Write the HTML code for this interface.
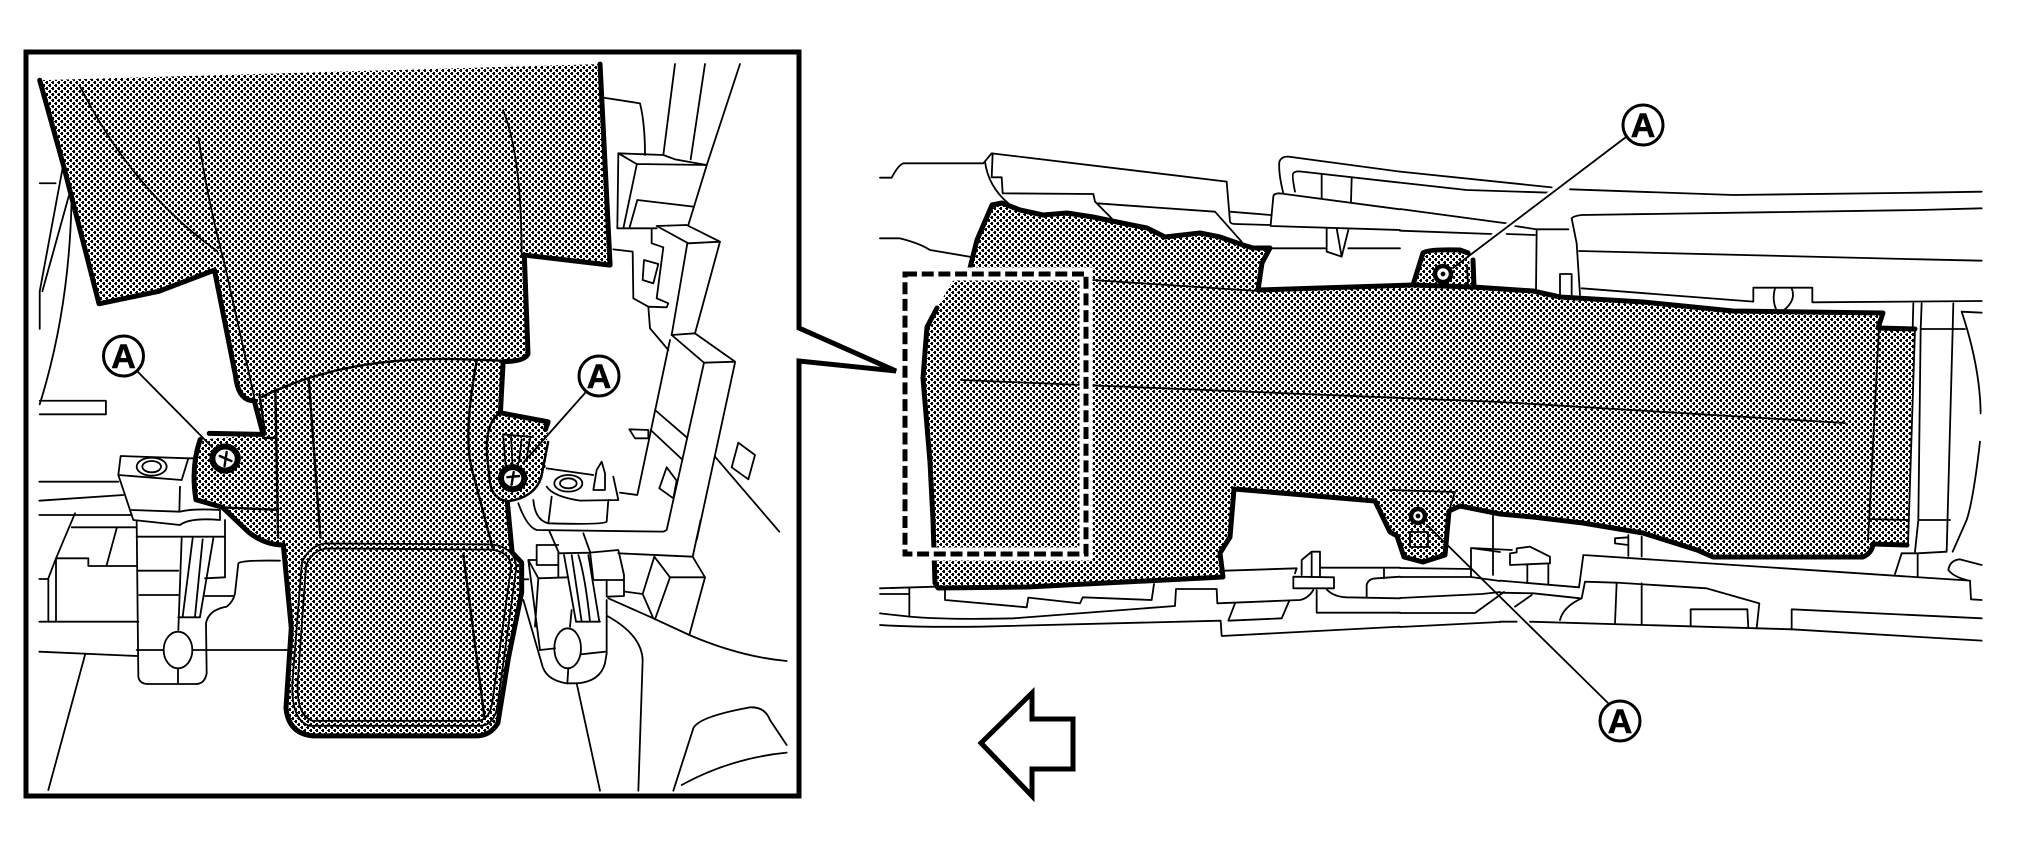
<!DOCTYPE html>
<html><head><meta charset="utf-8"><style>
html,body{margin:0;padding:0;background:#fff}
svg{display:block}
.t *{vector-effect:non-scaling-stroke}
.t{fill:none;stroke:#000;stroke-width:1.8;stroke-linejoin:round;stroke-linecap:round}
.k{stroke-width:5}
.m{stroke-width:2.4}
text{font-family:"Liberation Sans",sans-serif;font-weight:bold;font-size:34px;text-anchor:middle;fill:#000;stroke:#000;stroke-width:.6}
</style></head><body>
<svg width="2020" height="851" viewBox="0 0 2020 851" xmlns="http://www.w3.org/2000/svg">
<defs>
<pattern id="h" width="6" height="6" patternUnits="userSpaceOnUse">
<g fill="#000" shape-rendering="crispEdges"><rect x="1" y="0" width="2" height="3"/><rect x="0" y="1" width="3" height="1"/><rect x="4" y="3" width="2" height="3"/><rect x="3" y="4" width="3" height="1"/></g>
</pattern>
<clipPath id="cL"><path transform="matrix(.5296 0 0 .5024 0 30)" d="M75,100 L1133,68 L1152,468 L990,448 L997,645 Q990,660 950,660 L945,762 L1035,780 L1030,870 Q1015,925 958,940 L967,1040 L985,1060 L985,1120 L960,1250 L940,1380 Q925,1405 900,1405 L590,1405 Q545,1400 540,1350 L550,1190 L535,1025 Q500,1025 470,1000 L420,950 L370,935 Q360,870 378,815 L497,805 L480,738 Q450,740 445,690 L405,478 L300,520 L187,545 Z"/></clipPath>
<clipPath id="cR"><path d="M952,282 L970,268 L977,240 L992,205 L1002,203 L1020,210 L1043,215 L1067,213 L1093,217 L1117,222 L1147,228 L1165,237 L1200,233 L1220,237 L1243,245 L1253,248 L1270,248 L1262,263 L1258,290 L1413,285 L1423,253 L1427,249 L1460,250 L1468,253 L1473,287 L1533,291 L1560,297 L1643,302 L1733,311 L1883,313 L1878,328 L1915,329 L1908,545 L1873,544 Q1872,553 1863,557 L1713,557 L1697,550 L1643,533 L1583,523 L1533,517 L1500,514 L1460,506 L1449,511 L1445,555 L1423,562 L1404,557 L1397,536 L1390,532 L1375,501 L1234,489 L1230,537 L1220,553 L1223,577 L1027,587 L938,588 L935,583 L933,520 L930,462 L923,378 L927,327 L937,308 Z"/></clipPath>
</defs>
<rect width="2020" height="851" fill="#fff"/>

<path d="M26,52 H799 V328 L896,371 L799,361 V796 H26 Z" fill="#fff" stroke="#000" stroke-width="5" stroke-linejoin="miter"/>

<!-- left panel: upper-left background -->
<g class="t" transform="matrix(.5296 0 0 .5024 0 30)">
<path d="M120,265 L75,520 M130,330 L80,520 M75,305 L105,305 M135,345 Q130,560 75,745 M75,595 L75,520"/>
<path d="M75,738 L200,738 L200,765 L75,765"/>
</g>
<!-- lower right crop -->
<g class="t" transform="matrix(.33333 0 0 .33333 490 520)">
<path d="M632,0 L608,110 L645,172 L598,345 M178,33 L205,95 M280,40 L300,95"/>
<path d="M140,75 L205,75 M140,75 L140,135 L205,135 M205,95 L205,170 M115,120 L140,120 M115,120 L145,175 L235,172 M145,175 L135,320 M100,178 L115,178 M115,120 L150,390"/>
<path d="M205,100 L300,98 L385,90 L402,165 L402,228 L350,230 M300,95 L310,180 L402,180 M385,100 L608,110 M350,185 L350,230"/>
<path d="M222,105 L258,305 M245,105 L275,305 M265,105 Q285,165 300,305 M295,105 L328,305 M258,305 L330,305 M240,320 L245,270"/>
<path d="M350,240 L350,400 L345,430 Q330,485 260,490 L230,490 Q165,480 155,430 L100,240"/>
<ellipse cx="233" cy="385" rx="40" ry="60"/>
<path d="M150,390 L195,385 M273,403 L348,395 M235,445 L232,490 M260,490 L330,812"/>
<path d="M355,235 L490,295 L598,345 Q750,410 890,423 M352,288 Q455,345 458,420 L445,812"/>
<path d="M405,215 L458,222 L490,295 M458,222 L493,110 L540,172 L495,298 M540,172 L645,172"/>
<path d="M550,812 L610,625 Q625,590 780,562 Q825,560 840,600 L890,675 M575,795 Q720,715 890,698"/>
</g>
<!-- crop 5 -->
<g class="t" transform="matrix(.33333 0 0 .33333 500 60)">
<path d="M305,112 L420,130 Q435,190 435,285 M525,12 L490,285 M615,12 L572,298 M720,12 L622,310 L565,495"/>
<path d="M355,280 L490,285 L525,298 L620,315 L410,312 Z M410,315 L370,505 M355,280 L352,505 L470,505 M412,420 L580,440 M412,420 L388,505"/>
<path d="M470,498 L560,495 L660,545 L565,550 Z M660,545 L585,820 M562,550 L515,825"/>
<path d="M455,505 L455,550 L490,562 L470,715 L505,730 L500,742 L445,740 L400,715 L398,575 L340,568 M445,740 L450,805 L505,870"/>
<path d="M432,600 L475,612 L460,670 L428,660 Z"/>
<path d="M515,825 L585,820 L705,905 L612,908 Z M705,908 L590,1440 M612,908 L500,1410 L490,1415 L110,1410 Q80,1400 55,1330 M510,840 L412,1305 L360,1298"/>
<path d="M465,1050 L560,1132 M452,1110 L545,1197 M388,1108 L445,1110 L445,1135 L405,1135 Z"/>
<path d="M645,1190 L838,1415 M715,1148 L765,1185 L745,1258 L695,1222 Z M500,1222 L530,1262 L520,1315 L478,1285 Z"/>
<path d="M140,1225 L280,1245 M340,1250 L355,1320 L240,1322 Q160,1310 140,1280 M305,1205 L315,1240 L315,1290 L280,1290 L290,1230 Z"/>
<ellipse cx="205" cy="1270" rx="42" ry="25"/><ellipse cx="205" cy="1270" rx="25" ry="15"/>
<path d="M325,1320 L320,1385 Q310,1395 145,1390 M155,1310 L145,1390 M100,1320 Q105,1380 145,1390"/>
</g>
<!-- crop 6 -->
<g class="t" transform="matrix(.33333 0 0 .33333 30 430)">
<path d="M272,78 L475,85 L455,150 L265,135 Z"/>
<ellipse cx="365" cy="110" rx="45" ry="27"/><ellipse cx="365" cy="110" rx="28" ry="17"/>
<path d="M265,135 L310,270 L450,285 Q480,262 570,270 L570,240 Q490,235 450,245 L305,240 M450,170 L448,245 M475,85 L495,85"/>
<path d="M28,155 L265,155 M28,212 L280,195 M28,255 L305,255 M135,250 L78,385 L55,445 L55,575 M28,447 L55,447 M78,385 L78,575 M78,385 L175,385 L175,408 L320,408 M125,292 L320,292 M260,295 L230,405"/>
<path d="M28,575 L325,575 M28,665 L320,678 M165,675 L55,1080"/>
<path d="M320,275 L325,740 Q328,760 350,762 L500,762 Q525,760 530,730 L528,580 Q535,540 590,530 Q610,515 615,490 L625,400 Q635,390 750,392"/>
<path d="M320,320 L585,320 M585,270 L585,442 L525,445 M325,422 L445,422 M328,495 L445,495 M525,498 L610,498"/>
<path d="M455,325 L445,600 M488,325 L458,560 M518,328 L495,560 M550,325 L510,560 M445,562 L510,562"/>
<ellipse cx="444" cy="660" rx="43" ry="55"/>
<path d="M320,660 L400,660 M488,660 L780,660 M444,715 L444,760"/>
</g>

<!-- left shaded -->
<rect x="0" y="0" width="830" height="851" fill="url(#h)" clip-path="url(#cL)"/>
<g class="t" transform="matrix(.5296 0 0 .5024 0 30)">
<path d="M150,110 Q250,320 410,440 M375,215 Q390,330 425,470 L480,730 M950,160 Q985,250 985,450"/>
<path class="m" d="M495,730 Q650,650 860,655 L945,658"/>
<path class="m" d="M520,715 L525,1010 M490,725 L500,800 M497,812 L520,812 M583,695 L605,1010 M900,660 Q875,800 890,870 L930,1030 M415,950 L525,955"/>
<path d="M615,1022 L930,1024 Q972,1030 975,1070 L940,1340 Q935,1385 905,1385 L585,1385 Q550,1375 552,1300 L570,1060 Q585,1025 615,1022 Z"/>
<path d="M620,1032 L925,1034 Q965,1038 965,1070 L930,1335 Q925,1375 900,1375 L590,1375 Q560,1365 562,1300 L578,1065 Q592,1032 620,1032 Z"/>
<path class="m" d="M875,1045 L915,1370"/>
<path class="k" d="M75,100 L120,270 L187,545 L300,520 L405,478 L445,690 Q450,738 480,738 L497,805 L395,803"/>
<path class="k" d="M1133,68 L1152,468 L990,448 L997,645 Q990,660 950,660 L945,760"/>
<path class="k" d="M378,815 Q360,870 370,935 L420,950 L470,1000 Q500,1025 535,1025 L550,1190 L540,1350 Q545,1400 590,1405 L900,1405 Q925,1405 940,1380 L960,1250 L985,1120 L985,1060 L967,1040 L958,940"/>
<path class="k" d="M945,762 L1035,780 L1030,795"/>
<path class="m" d="M945,762 Q915,780 920,850 L925,900 Q930,935 960,938 Q1010,930 1022,890 L1035,820"/>
<path d="M950,805 L1005,810 M950,805 L955,870 M965,810 L968,870 M985,815 L980,860 M1000,815 L995,850"/>
<circle cx="425" cy="853" r="24" fill="#fff" stroke-width="6"/>
<circle cx="968" cy="892" r="22" fill="#fff" stroke-width="6"/>
<path class="m" d="M415,848 L437,858 M428,840 L424,868 M958,890 L980,888 M970,880 L966,905"/>
</g>
<g class="t">
<path d="M138,372 L212,447 M585,393 L523,463"/>
</g>

<!-- right background: crop 1 -->
<g class="t" transform="matrix(.33333 0 0 .33333 880 140)">
<path d="M0,113 L35,113 Q55,75 70,70 L310,70 L335,40 L1040,125 L1050,245 Q1052,252 1065,252 L1170,255"/>
<path d="M315,65 Q325,140 385,190 M338,40 L335,112 L365,112 L368,160 L640,162 L645,185 L695,235 M650,190 L1005,215 L1085,305 M1050,215 L1172,225"/>
<path d="M1180,170 Q1180,160 1200,160 L1560,208 M1180,170 L1172,255 M1172,258 L1560,270 M1210,160 Q1195,100 1198,65 Q1205,48 1225,50 L1560,95"/>
<path d="M1245,155 Q1235,105 1240,100 Q1245,92 1265,95 L1560,128 M1325,105 L1325,175 M1415,115 L1413,185"/>
<path d="M1340,265 L1340,335 L1385,350 L1405,270 M1370,265 L1385,350 M1405,325 L1560,325 M1175,325 L1340,325"/>
<path d="M0,295 L60,295 Q120,310 150,330 L280,352"/>
</g>
<!-- crop 2 -->
<g class="t" transform="matrix(.33333 0 0 .33333 1400 140)">
<path d="M0,95 L455,142 M510,148 L1000,165 L1560,158 L1745,155 M0,128 L200,150 L450,158"/>
<path d="M0,207 L320,250 M345,258 L410,268 L505,268 M0,272 L275,282 M320,282 L405,285"/>
<path d="M410,268 L408,452 M515,235 Q520,228 545,225 L1560,210 L1745,205 M515,235 L530,310 L540,465 M537,333 L1560,358 L1745,362"/>
<path d="M480,465 L480,402 L515,402 L515,470"/>
<path d="M545,445 L1060,485 L1060,443 L1237,443 L1237,487 L1745,483 M1125,445 Q1115,480 1130,512 M1175,445 Q1190,480 1150,512"/>
</g>
<!-- crop 3 -->
<g class="t" transform="matrix(.33333 0 0 .33333 880 520)">
<path d="M0,205 L165,200 M0,222 L88,222 M88,205 L88,290"/>
<path d="M0,280 L88,290 Q200,300 400,295 Q600,280 885,258 L888,207 L1010,207 L1012,250 L1260,240 Q1285,235 1300,210"/>
<path d="M0,315 Q100,322 300,320 L1022,302 L1025,348 L1560,320"/>
<path d="M195,210 L195,240 L440,262 L445,233 L600,250 L608,232 L815,240 L822,192"/>
<path d="M1065,250 L1045,302 L1205,295 L1228,242"/>
<path d="M1035,152 L1250,145 L1245,160 M1265,165 L1265,120 L1295,95 L1320,95 L1320,170 M1295,100 L1295,170"/>
<path d="M1240,170 L1362,172 L1362,205 L1240,205 Z"/>
<path d="M1320,143 L1560,143 M1512,145 L1512,175 M1310,210 L1310,278 L1560,278 M1340,208 Q1360,230 1400,232 L1560,235 M1460,232 L1460,195 Q1465,175 1490,175 L1560,170"/>
</g>
<!-- between crops 3 and 4 -->
<g class="t">
<path d="M1400,568 L1471,569 M1400,577 L1467,577 L1471,577 L1500,581 M1400,598 L1482,594 L1500,592 M1400,613 L1475,613 L1504,592 M1400,627 L1500,622 M1471,548 L1471,577 M1471,548 L1512,550 M1493,513 L1493,575 M1500,552 L1471,548"/>
</g>
<!-- crop 4 -->
<g class="t" transform="matrix(.33333 0 0 .33333 1500 300)">
<path d="M1240,10 L1238,88 M1265,10 L1262,88 L1255,660 L1245,755 M1360,10 L1358,90 L1340,755 M1262,87 L1395,87 M1258,660 L1350,660"/>
<path d="M1385,35 L1445,38 M1385,35 Q1440,200 1442,340 M1440,425 Q1420,600 1400,660 L1358,755"/>
<path d="M1205,760 L1253,760 L1340,755 M1205,760 L1185,822 M1253,760 L1253,828 M1345,810 Q1350,780 1380,778 L1445,795 M1345,810 Q1360,830 1400,840"/>
<path d="M250,765 L1410,842 L1413,898 L1445,900 M250,765 L237,862 L0,842"/>
<path d="M50,745 L90,740 L150,770 L150,790 L30,795 L30,760 L50,757 Z M82,795 L82,848 M145,790 L145,852"/>
<path d="M345,715 L385,712 M345,715 L345,730 L385,735 M385,705 L385,768 M425,710 L425,770"/>
<path d="M255,845 L350,848 L620,865 L778,910 L770,985 M255,845 L245,895 Q190,920 180,960 M350,848 L345,970 M425,850 L425,972 M572,928 L742,928 L745,983 M572,928 L572,978"/>
<path d="M875,928 L1445,955 M875,928 L875,988"/>
<path d="M0,878 L100,880 L240,895 M95,885 L45,920 M0,965 L50,965 M90,965 L875,988 L1445,1022"/>
</g>

<!-- right shaded -->
<rect x="860" y="90" width="1160" height="730" fill="url(#h)" clip-path="url(#cR)"/>
<g class="t">
<path d="M1092,280 L1258,291 M961,380 L1500,402 L1845,423 M1879,328 L1868,542 M1915,329 L1908,545 M1868,519 L1909,520"/>
<path class="k" d="M970,268 L977,240 L992,205 L1002,203 L1020,210 L1043,215 L1067,213 L1093,217 L1117,222 L1147,228 L1165,237 L1200,233 L1220,237 L1243,245 L1253,248 L1270,248 L1262,263 L1258,290 L1413,285 L1423,253 Q1427,249 1460,250 L1468,253"/>
<path class="k" d="M1413,285 L1473,287 L1533,291 L1560,297 L1643,302 L1733,311 L1883,313 L1878,328 L1915,329"/>
<path class="k" d="M1473,260 L1474,287"/>
<path class="k" d="M1907,545 L1873,544 Q1872,553 1863,557 L1713,557 L1697,550 L1643,533 L1583,523 L1533,517 L1500,514 L1460,506 L1449,511 L1445,555 L1423,562 L1404,557 L1397,536 L1390,532 L1375,501 L1234,489 L1230,537 L1220,553 L1223,577 L1027,587 L938,588 L935,583 L933,520 L930,462 L923,378 L927,327 L937,308"/>
<path d="M1390,490 L1455,492 L1449,511"/>
<rect x="1410" y="532" width="18" height="15"/>
<path d="M1467,265 L1468,285"/>
<circle cx="1443" cy="274" r="8" fill="#fff" stroke-width="4.500"/>
<circle cx="1418" cy="516" r="7" fill="#fff" stroke-width="4.500"/>
<circle cx="1443" cy="274" r="1.500" fill="#000"/>
<circle cx="1418" cy="516" r="1.500" fill="#000"/>
<path style="stroke:#fff;stroke-width:7" d="M1623,140 L1490,240"/>
<path d="M1630,134 L1453,268 M1608,703 L1427,525"/>
<path style="stroke:#fff;stroke-width:13;stroke-linejoin:miter;stroke-linecap:butt" d="M905,274 H1086 V554 H905 Z"/>
<path style="stroke-width:5;stroke-dasharray:12 4.700;stroke-linecap:butt;stroke-linejoin:miter" d="M905,274 H1086 V554 H905 Z"/>
<path style="stroke-width:5;stroke-linejoin:miter" d="M981,743 L1032,693 L1032,719 L1073,719 L1073,769 L1032,769 L1032,796 Z"/>
</g>

<!-- callouts -->
<g fill="#fff" stroke="#000" stroke-width="3">
<circle cx="123.500" cy="356" r="20"/><circle cx="599" cy="376" r="20"/>
<circle cx="1643" cy="125" r="20"/><circle cx="1620" cy="721" r="20"/>
</g>
<text x="123.500" y="368">A</text><text x="599" y="388">A</text>
<text x="1643" y="137">A</text><text x="1620" y="733">A</text>
</svg>
</body></html>
